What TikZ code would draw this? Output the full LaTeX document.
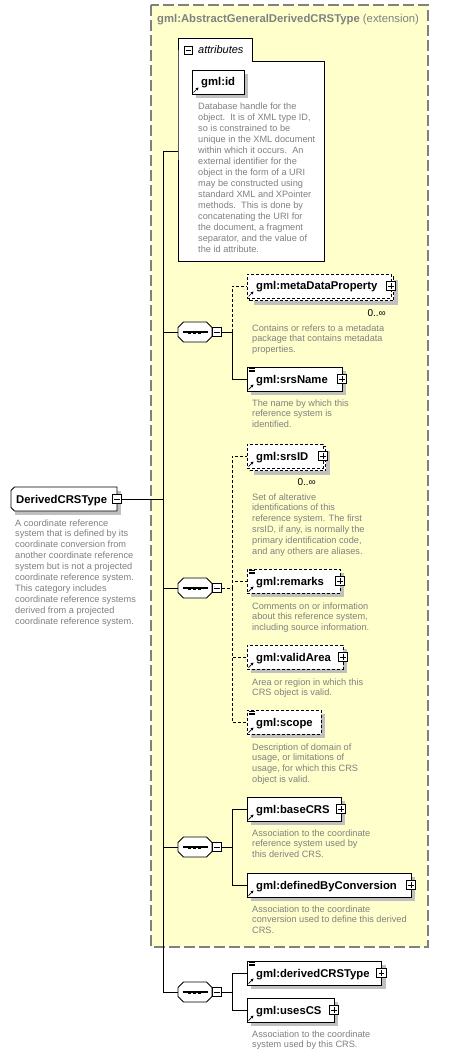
\documentclass[tikz,border=0pt]{standalone}
\usepackage{fontspec}
\setmainfont{Liberation Sans}
\usetikzlibrary{shadows,arrows.meta}
\definecolor{bgyellow}{HTML}{FFFFCC}
\definecolor{framegray}{HTML}{808080}
\definecolor{descgray}{HTML}{808080}
\definecolor{shadowgray}{HTML}{C0C0C0}
\newcommand\desctext[1]{\parbox[t]{260pt}{\raggedright\fontsize{9.2}{10.95}\selectfont #1}}
\tikzset{
  conn/.style={line width=0.9pt},
  optconn/.style={line width=0.9pt, dash pattern=on 3pt off 2pt},
  shade4/.style={drop shadow={shadow xshift=4pt,shadow yshift=-4pt,fill=shadowgray,draw=none,opacity=1}},
  boxbase/.style={draw, line width=0.9pt, fill=white, inner sep=0, outer sep=0},
  solidbox/.style={boxbase, shade4},
  dashbox/.style={boxbase, dash pattern=on 3pt off 2pt, shade4},
  dashflat/.style={boxbase, dash pattern=on 3pt off 2pt},
  elabel/.style={inner sep=0, font=\fontsize{11.3}{13}\selectfont\bfseries},
  desc/.style={anchor=base west, inner sep=0, text=descgray},
  mult/.style={anchor=base east, inner sep=0, font=\fontsize{10}{12}\selectfont},
  refarrow/.style={line width=0.7pt, -{Stealth[length=3pt,width=3pt]}},
  plusbox/.style={draw, fill=white, line width=0.8pt, minimum size=9.5pt, inner sep=0,
    path picture={\draw[line width=0.8pt] ([xshift=1.8pt]path picture bounding box.west) -- ([xshift=-1.8pt]path picture bounding box.east) ([yshift=1.8pt]path picture bounding box.south) -- ([yshift=-1.8pt]path picture bounding box.north);}},
  minusbox/.style={draw, fill=white, line width=0.8pt, minimum size=9.5pt, inner sep=0,
    path picture={\draw[line width=0.8pt] ([xshift=1.8pt]path picture bounding box.west) -- ([xshift=-1.8pt]path picture bounding box.east);}},
  seqbox/.style={rectangle, minimum width=34pt, minimum height=20pt, inner sep=0, outer sep=0},
  rootbox/.style={rectangle, minimum width=106pt, minimum height=24pt, inner sep=0, outer sep=0},
  extframe/.style={draw=framegray, line width=1.3pt, dash pattern=on 11pt off 4pt, fill=bgyellow},
}
\newcommand\xbox[6]{%
  \node[#2, minimum width=#5pt, minimum height=24pt, anchor=north west] (#1) at (#3,#4) {};
  \node[elabel, anchor=base west] (#1-t) at ([xshift=9pt,yshift=-4pt]#1.west) {#6};
  \draw[refarrow] ([shift={(1.5pt,1.5pt)}]#1.south west) -- ([shift={(6.5pt,6.5pt)}]#1.south west);
}
\newcommand\xback[4]{%
  \node[dashbox, minimum width=#4pt, minimum height=24pt, anchor=north west] (#1-b) at (#2,#3) {};
}
\newcommand\xplus[1]{\node[plusbox] (#1-p) at (#1.east) {};}
\newcommand\xequiv[1]{%
  \draw[line width=0.6pt] ([shift={(2pt,-1.5pt)}]#1.north west) -- ++(6pt,0)
    ([shift={(2pt,-3pt)}]#1.north west) -- ++(6pt,0)
    ([shift={(2pt,-4.5pt)}]#1.north west) -- ++(6pt,0);}
\newcommand\octpath[2]{% node, chamfer
  ([xshift=#2]#1.north west) -- ([xshift=-#2]#1.north east) -- ([yshift=-#2]#1.north east)
  -- ([yshift=#2]#1.south east) -- ([xshift=-#2]#1.south east) -- ([xshift=#2]#1.south west)
  -- ([yshift=#2]#1.south west) -- ([yshift=-#2]#1.north west) -- cycle}
\newcommand\xseq[3]{%
  \node[seqbox] (#1) at (#2,#3) {};
  \fill[shadowgray, shift={(4pt,-4pt)}] \octpath{#1}{5.5pt};
  \draw[line width=0.9pt, fill=white] \octpath{#1}{5.5pt};
  \draw[line width=1.2pt] ([xshift=-12.5pt]#1.center) -- ([xshift=12.5pt]#1.center);
  \fill ([xshift=-5.5pt]#1.center) ++(-1.5pt,-1.5pt) rectangle ++(3pt,3pt);
  \fill ([xshift=-0.5pt]#1.center) ++(-1.5pt,-1.5pt) rectangle ++(3pt,3pt);
  \fill ([xshift=4.5pt]#1.center) ++(-1.5pt,-1.5pt) rectangle ++(3pt,3pt);
  \node[minusbox] (#1-m) at ([xshift=4.75pt]#1.east) {};
}
\begin{document}
\begin{tikzpicture}[x=1pt,y=-1pt]
\useasboundingbox (0,0) rectangle (468,1056);
\fill[white] (0,0) rectangle (468,1056);
% extension frame
\draw[extframe] (151,5) rectangle (428,947);
\node[anchor=base west, inner sep=0, text=framegray] (exttitle) at (157,23)
  {\fontsize{11.3}{13}\selectfont\bfseries gml:AbstractGeneralDerivedCRSType \mdseries(extension)};
% attributes box
\draw[line width=0.9pt, fill=white] (178,61) -- (178,38) -- (252,38) -- (252,61) -- (324,61) -- (324,261) -- (178,261) -- cycle;
\node[inner sep=0, minimum width=146pt, minimum height=200pt, anchor=north west] (attrs) at (178,61) {};
\node[draw, fill=white, line width=0.7pt, minimum size=8pt, inner sep=0,
  path picture={\draw[line width=0.7pt] ([xshift=1.5pt]path picture bounding box.west) -- ([xshift=-1.5pt]path picture bounding box.east);}] (attrs-m) at (188,50) {};
\node[anchor=base west, inner sep=0] (attrs-t) at (198,54) {\fontsize{11}{13}\selectfont\itshape attributes};
\xbox{gmlid}{solidbox}{192}{70}{52}{gml:id}
\node[desc] (gmlid-d) at (198,110) {\desctext{Database handle for the\\ object.\ \ It is of XML type ID,\\ so is constrained to be\\ unique in the XML document\\ within which it occurs.\ \ An\\ external identifier for the\\ object in the form of a URI\\ may be constructed using\\ standard XML and XPointer\\ methods.\ \ This is done by\\ concatenating the URI for\\ the document, a fragment\\ separator, and the value of\\ the id attribute.}};
% root
\node[rootbox, anchor=north west] (root) at (11,487) {};
\fill[shadowgray] ([shift={(4pt,-4pt)}]root.north west) rectangle ([shift={(4pt,-4pt)}]root.south east);
\draw[line width=0.9pt, fill=white] ([xshift=3.5pt]root.north west) -- (root.north east) -- (root.south east)
  -- ([xshift=3.5pt]root.south west) -- ([yshift=3.5pt]root.south west) -- ([yshift=-3.5pt]root.north west) -- cycle;
\node[elabel, anchor=base west] (root-t) at (16,503) {DerivedCRSType};
\node[minusbox] (root-m) at (root.east) {};
\node[desc] (root-d) at (15,526) {\desctext{A coordinate reference\\ system that is defined by its\\ coordinate conversion from\\ another coordinate reference\\ system but is not a projected\\ coordinate reference system.\\ This category includes\\ coordinate reference systems\\ derived from a projected\\ coordinate reference system.}};
% sequences
\xseq{seqa}{195}{332}
\xseq{seqb}{195}{588}
\xseq{seqc}{195}{847}
\xseq{seqd}{195}{992}
% spine
\coordinate (spinetop) at (163,151);
\draw[conn] (spinetop) -- (spinetop -| attrs.west);
\draw[conn] (spinetop) |- (seqd.west);
\draw[conn] (root-m.east) -- (root-m.east -| spinetop);
\draw[conn] (seqa.west -| spinetop) -- (seqa.west);
\draw[conn] (seqb.west -| spinetop) -- (seqb.west);
\draw[conn] (seqc.west -| spinetop) -- (seqc.west);
% group 1
\xback{mdp}{249.5}{276.5}{144}
\xbox{mdp}{dashflat}{247}{274}{144}{gml:metaDataProperty}\xplus{mdp}
\node[mult] (mdp-n) at (386,316) {0..∞};
\node[desc] (mdp-d) at (252,331) {\desctext{Contains or refers to a metadata\\ package that contains metadata\\ properties.}};
\xbox{srsName}{solidbox}{247}{367}{95}{gml:srsName}\xplus{srsName}\xequiv{srsName}
\node[desc] (srsName-d) at (252,406) {\desctext{The name by which this\\ reference system is\\ identified.}};
\coordinate (ba) at (232,332);
\draw[conn] (seqa-m.east) -- (ba);
\draw[optconn] (ba) |- (mdp.west);
\draw[conn] (ba) |- (srsName.west);
% group 2
\xback{srsID}{249.5}{446.5}{76}
\xbox{srsID}{dashflat}{247}{444}{76}{gml:srsID}\xplus{srsID}
\node[mult] (srsID-n) at (316,485) {0..∞};
\node[desc] (srsID-d) at (252,500) {\desctext{Set of alterative\\ identifications of this\\ reference system. The first\\ srsID, if any, is normally the\\ primary identification code,\\ and any others are aliases.}};
\xbox{remarks}{dashbox}{247}{569}{93}{gml:remarks}\xplus{remarks}\xequiv{remarks}
\node[desc] (remarks-d) at (252,609) {\desctext{Comments on or information\\ about this reference system,\\ including source information.}};
\xbox{validArea}{dashbox}{247}{645}{96}{gml:validArea}\xplus{validArea}
\node[desc] (validArea-d) at (252,685) {\desctext{Area or region in which this\\ CRS object is valid.}};
\xbox{scope}{dashbox}{247}{710}{74}{gml:scope}\xequiv{scope}
\node[desc] (scope-d) at (252,750) {\desctext{Description of domain of\\ usage, or limitations of\\ usage, for which this CRS\\ object is valid.}};
\coordinate (bb) at (232,588);
\draw[optconn] (seqb-m.east) -- (bb);
\draw[optconn] (bb) |- (srsID.west);
\draw[optconn] (bb) |- (remarks.west);
\draw[optconn] (bb) |- (validArea.west);
\draw[optconn] (bb) |- (scope.west);
% group 3
\xbox{baseCRS}{solidbox}{247}{797}{94}{gml:baseCRS}\xplus{baseCRS}
\node[desc] (baseCRS-d) at (252,836) {\desctext{Association to the coordinate\\ reference system used by\\ this derived CRS.}};
\xbox{dbc}{solidbox}{247}{873}{164}{gml:definedByConversion}\xplus{dbc}
\node[desc] (dbc-d) at (252,912) {\desctext{Association to the coordinate\\ conversion used to define this derived\\ CRS.}};
\coordinate (bc) at (232,847);
\draw[conn] (seqc-m.east) -- (bc);
\draw[conn] (bc) |- (baseCRS.west);
\draw[conn] (bc) |- (dbc.west);
% group 4
\xbox{dct}{solidbox}{247}{961}{134.5}{gml:derivedCRSType}\xplus{dct}\xequiv{dct}
\xbox{usesCS}{solidbox}{247}{998}{87}{gml:usesCS}\xplus{usesCS}
\node[desc] (usesCS-d) at (252,1037) {\desctext{Association to the coordinate\\ system used by this CRS.}};
\coordinate (bd) at (232,992);
\draw[conn] (seqd-m.east) -- (bd);
\draw[conn] (bd) |- (dct.west);
\draw[conn] (bd) |- (usesCS.west);
\end{tikzpicture}
\end{document}
